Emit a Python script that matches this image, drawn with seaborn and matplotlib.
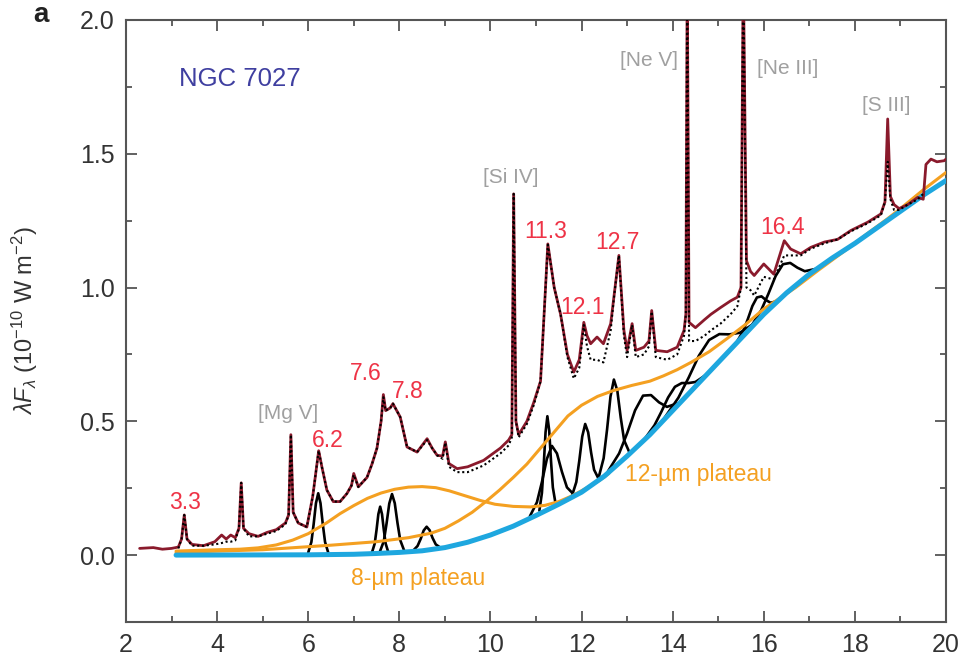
import numpy as np
import matplotlib
matplotlib.use("Agg")
import matplotlib.pyplot as plt
import seaborn as sns
from matplotlib.ticker import MultipleLocator, FormatStrFormatter

# ---------------- data ----------------
wavelength = [2.3, 2.6, 2.8, 3.0, 3.15, 3.22, 3.28, 3.34, 3.45, 3.7, 3.95, 4.1, 4.2, 4.3, 4.4,
              4.48, 4.53, 4.58, 4.7, 4.9, 5.1, 5.3, 5.5, 5.57, 5.62, 5.67, 5.78, 5.97, 6.1, 6.23,
              6.3, 6.41, 6.55, 6.7, 6.85, 6.95, 7.0, 7.1, 7.29, 7.4, 7.51, 7.6, 7.65, 7.7, 7.8,
              7.86, 8.02, 8.17, 8.39, 8.61, 8.72, 8.83, 8.95, 9.01, 9.09, 9.27, 9.5, 9.85, 10.22,
              10.4, 10.47, 10.51, 10.56, 10.62, 10.8, 10.95, 11.1, 11.26, 11.4, 11.54, 11.69,
              11.83, 11.95, 12.05, 12.12, 12.2, 12.34, 12.48, 12.64, 12.71, 12.82, 12.93, 13.0,
              13.11, 13.19, 13.37, 13.48, 13.54, 13.63, 13.88, 14.1, 14.25, 14.29, 14.32, 14.36,
              14.5, 14.7, 14.84, 15.05, 15.27, 15.42, 15.5, 15.55, 15.62, 15.71, 15.79, 16.0,
              16.22, 16.45, 16.59, 16.81, 17.03, 17.33, 17.62, 17.91, 18.28, 18.57, 18.66, 18.72,
              18.78, 18.86, 18.97, 19.16, 19.38, 19.5, 19.56, 19.67, 19.8, 19.96, 20.0]
flux_observed = [0.025, 0.028, 0.022, 0.025, 0.03, 0.06, 0.15, 0.06, 0.04, 0.035, 0.05, 0.075, 0.06,
                 0.075, 0.065, 0.1, 0.27, 0.1, 0.08, 0.07, 0.085, 0.095, 0.12, 0.15, 0.45, 0.16,
                 0.12, 0.105, 0.22, 0.39, 0.33, 0.243, 0.2, 0.2, 0.23, 0.26, 0.305, 0.255, 0.29,
                 0.34, 0.40, 0.5, 0.6, 0.54, 0.55, 0.566, 0.516, 0.404, 0.385, 0.435, 0.40, 0.373,
                 0.37, 0.423, 0.342, 0.323, 0.33, 0.354, 0.40, 0.43, 0.45, 1.35, 0.5, 0.45, 0.50,
                 0.57, 0.65, 1.163, 1.0, 0.9, 0.75, 0.684, 0.73, 0.87, 0.82, 0.79, 0.815, 0.79,
                 0.865, 0.964, 1.12, 0.84, 0.765, 0.865, 0.765, 0.777, 0.8, 0.914, 0.765, 0.76,
                 0.777, 0.84, 0.9, 2.2, 0.87, 0.85, 0.88, 0.9, 0.925, 0.95, 0.964, 1.0, 2.2, 1.1,
                 1.06, 1.045, 1.088, 1.05, 1.175, 1.144, 1.126, 1.15, 1.17, 1.18, 1.213, 1.244,
                 1.275, 1.32, 1.63, 1.34, 1.31, 1.295, 1.31, 1.337, 1.33, 1.46, 1.48, 1.47, 1.474,
                 1.48]
flux_model = [np.nan, np.nan, np.nan, np.nan, 0.025, 0.06, 0.15, 0.06, 0.035, 0.035, 0.04, 0.045, 0.05,
              0.05, 0.055, 0.1, 0.27, 0.1, 0.07, 0.07, 0.08, 0.09, 0.115, 0.15, 0.45, 0.16,
              0.12, 0.105, 0.22, 0.39, 0.33, 0.243, 0.2, 0.2, 0.23, 0.26, 0.3, 0.255, 0.29,
              0.34, 0.40, 0.5, 0.59, 0.54, 0.55, 0.566, 0.516, 0.404, 0.385, 0.43, 0.40, 0.373,
              0.36, 0.42, 0.33, 0.31, 0.31, 0.335, 0.38, 0.41, 0.44, 1.35, 0.5, 0.44, 0.49,
              0.56, 0.65, 1.16, 1.0, 0.9, 0.74, 0.66, 0.70, 0.86, 0.78, 0.73, 0.73, 0.72,
              0.84, 0.96, 1.12, 0.82, 0.74, 0.86, 0.74, 0.75, 0.78, 0.91, 0.74, 0.73,
              0.75, 0.82, 0.9, 2.2, 0.8, 0.80, 0.82, 0.84, 0.865, 0.90, 0.93, 1.0, 2.2, 1.0,
              0.99, 0.97, 1.04, 1.03, 1.12, 1.12, 1.12, 1.145, 1.165, 1.18, 1.21, 1.24,
              1.27, 1.32, 1.47, 1.33, 1.29, 1.29, 1.31, 1.33, 1.35, np.nan, np.nan, np.nan,
              np.nan, np.nan]

continuum_x = [3.1, 6.0, 7.0, 7.5, 8.0, 8.5, 9.0, 9.5, 10.0, 10.5, 11.0, 11.5, 12.0, 12.5, 13.0,
               13.5, 14.0, 14.5, 15.0, 15.5, 16.0, 16.5, 17.0, 17.5, 18.0, 18.5, 19.0, 19.5, 20.0]
continuum_y = [0.0, 0.001, 0.003, 0.006, 0.01, 0.016, 0.028, 0.048, 0.075, 0.108, 0.148, 0.19, 0.235,
               0.295, 0.37, 0.45, 0.54, 0.63, 0.72, 0.81, 0.90, 0.98, 1.05, 1.11, 1.165, 1.225,
               1.285, 1.345, 1.40]

plateau8_x = [3.1, 4.0, 4.5, 4.9, 5.3, 5.66, 6.0, 6.4, 6.7, 7.0, 7.3, 7.6, 7.9, 8.2, 8.5, 8.8, 9.1,
              9.4, 9.78, 10.1, 10.5, 10.88, 11.2, 11.5, 11.8, 12.1, 12.4, 12.6]
plateau8_y = [0.015, 0.02, 0.022, 0.027, 0.038, 0.056, 0.08, 0.12, 0.155, 0.185, 0.212, 0.232,
              0.246, 0.254, 0.256, 0.252, 0.24, 0.224, 0.204, 0.19, 0.182, 0.18, 0.186, 0.2,
              0.222, 0.25, 0.28, 0.305]

plateau12_x = [3.1, 5.0, 6.5, 7.5, 8.2, 8.7, 9.0, 9.3, 9.6, 9.9, 10.2, 10.5, 10.8, 11.1, 11.4,
               11.7, 12.0, 12.35, 12.7, 13.1, 13.5, 13.8, 14.1, 14.4, 14.8, 15.2, 15.6, 16.0,
               16.35, 16.7, 17.2, 17.8, 18.3, 18.7, 19.0, 19.5, 20.0]
plateau12_y = [0.01, 0.02, 0.037, 0.05, 0.065, 0.082, 0.1, 0.128, 0.16, 0.2, 0.243, 0.29, 0.34,
               0.40, 0.46, 0.52, 0.56, 0.593, 0.615, 0.634, 0.65, 0.67, 0.693, 0.72, 0.76, 0.81,
               0.862, 0.92, 0.96, 1.0, 1.065, 1.14, 1.205, 1.255, 1.295, 1.365, 1.43]

# individual PAH feature profiles (drawn on top of the continuum)
pah62_x = [6.0, 6.07, 6.12, 6.17, 6.22, 6.27, 6.32, 6.37, 6.44]
pah62_y = [0.009, 0.049, 0.116, 0.194, 0.231, 0.194, 0.116, 0.049, 0.009]
pah76_x = [7.404, 7.46, 7.50, 7.54, 7.58, 7.62, 7.66, 7.70, 7.756]
pah76_y = [0.012, 0.043, 0.094, 0.153, 0.181, 0.153, 0.094, 0.043, 0.012]
pah78_x = [7.576, 7.66, 7.72, 7.78, 7.84, 7.90, 7.96, 8.02, 8.104]
pah78_y = [0.014, 0.052, 0.118, 0.193, 0.228, 0.194, 0.120, 0.056, 0.018]
pah86_x = [8.30, 8.40, 8.47, 8.535, 8.60, 8.665, 8.73, 8.80, 8.90]
pah86_y = [0.016, 0.034, 0.061, 0.092, 0.106, 0.093, 0.064, 0.040, 0.028]
pah112_x = [11.074, 11.13, 11.17, 11.21, 11.25, 11.29, 11.33, 11.37, 11.426]
pah112_y = [0.166, 0.232, 0.337, 0.459, 0.519, 0.466, 0.351, 0.253, 0.196]
pah113_x = [10.866, 11.02, 11.13, 11.24, 11.35, 11.46, 11.57, 11.68, 11.834]
pah113_y = [0.145, 0.197, 0.273, 0.360, 0.408, 0.380, 0.311, 0.253, 0.226]
pah121_x = [11.794, 11.885, 11.95, 12.015, 12.08, 12.145, 12.21, 12.275, 12.366]
pah121_y = [0.224, 0.273, 0.352, 0.443, 0.490, 0.459, 0.383, 0.319, 0.288]
pah127_x = [12.38, 12.485, 12.56, 12.635, 12.71, 12.785, 12.86, 12.935, 13.04]
pah127_y = [0.293, 0.362, 0.469, 0.592, 0.656, 0.615, 0.514, 0.429, 0.388]
pah134_x = [12.58, 12.825, 13.0, 13.175, 13.35, 13.525, 13.7, 13.875, 14.12]
pah134_y = [0.313, 0.380, 0.455, 0.541, 0.596, 0.598, 0.571, 0.554, 0.568]
pah140_x = [13.39, 13.6, 13.75, 13.9, 14.05, 14.2, 14.35, 14.5, 14.71]
pah140_y = [0.435, 0.485, 0.535, 0.589, 0.629, 0.643, 0.643, 0.647, 0.671]
pah148_x = [13.81, 14.125, 14.35, 14.575, 14.8, 15.025, 15.25, 15.475, 15.79]
pah148_y = [0.510, 0.588, 0.663, 0.745, 0.804, 0.826, 0.825, 0.831, 0.866]
pah158_x = [15.41, 15.55, 15.65, 15.75, 15.85, 15.95, 16.05, 16.15, 16.29]
pah158_y = [0.797, 0.838, 0.882, 0.931, 0.963, 0.967, 0.953, 0.943, 0.949]
pah164_x = [15.716, 15.94, 16.1, 16.26, 16.42, 16.58, 16.74, 16.9, 17.124]
pah164_y = [0.853, 0.914, 0.976, 1.043, 1.087, 1.092, 1.074, 1.061, 1.069]

pah_labels = ["3.3", "6.2", "7.6", "7.8", "11.3", "12.1", "12.7", "16.4"]
pah_label_x = [3.3, 6.43, 7.27, 8.19, 11.22, 12.02, 12.78, 16.41]
pah_label_y = [0.195, 0.43, 0.68, 0.61, 1.21, 0.925, 1.17, 1.225]

line_labels = ["[Mg V]", "[Si IV]", "[Ne V]", "[Ne III]", "[S III]"]
line_label_x = [5.55, 10.45, 13.47, 16.52, 18.68]
line_label_y = [0.53, 1.41, 1.85, 1.82, 1.68]

x_ticks = [2, 4, 6, 8, 10, 12, 14, 16, 18, 20]
y_ticks = [0.0, 0.5, 1.0, 1.5, 2.0]

# ---------------- styling ----------------
sns.set_theme(style="ticks")
plt.rcParams['font.family'] = ['Liberation Sans', 'DejaVu Sans']
plt.rcParams['mathtext.fontset'] = 'custom'
plt.rcParams['mathtext.rm'] = 'Liberation Sans'
plt.rcParams['mathtext.it'] = 'Liberation Sans:italic'

RED_SPEC = '#8a1a2c'
RED_LAB = '#ee3346'
GRAY_LAB = '#a0a0a0'
ORANGE = '#f4a021'
CYAN = '#1ea7df'
NAVY = '#3f3fa0'
AXIS = '#555555'

fig = plt.figure(figsize=(9.66, 6.66), dpi=100)
ax = fig.add_axes([0.1304, 0.0661, 0.8489, 0.9039])

profiles = [(pah62_x, pah62_y), (pah76_x, pah76_y), (pah78_x, pah78_y), (pah86_x, pah86_y),
            (pah112_x, pah112_y), (pah113_x, pah113_y), (pah121_x, pah121_y),
            (pah127_x, pah127_y), (pah134_x, pah134_y), (pah140_x, pah140_y),
            (pah148_x, pah148_y), (pah158_x, pah158_y), (pah164_x, pah164_y)]
for px, py in profiles:
    sns.lineplot(x=px, y=py, ax=ax, color='black', lw=1.9, sort=False, estimator=None, zorder=2)

sns.lineplot(x=plateau8_x, y=plateau8_y, ax=ax, color=ORANGE, lw=2.2, sort=False,
             estimator=None, zorder=3)
sns.lineplot(x=plateau12_x, y=plateau12_y, ax=ax, color=ORANGE, lw=2.2, sort=False,
             estimator=None, zorder=3)
sns.lineplot(x=continuum_x, y=continuum_y, ax=ax, color=CYAN, lw=3.6, sort=False,
             estimator=None, zorder=4)

sns.lineplot(x=wavelength, y=flux_observed, ax=ax, color=RED_SPEC, lw=2.0, sort=False,
             estimator=None, zorder=5)
wl = np.array(wavelength)
fm = np.array(flux_model)
mask = ~np.isnan(fm)
ax.plot(wl[mask], fm[mask], color='black', lw=1.5, ls=(0, (1, 1.3)), zorder=6)

for t, x, y in zip(pah_labels, pah_label_x, pah_label_y):
    ax.text(x, y, t, color=RED_LAB, fontsize=16.5, ha='center', va='center', zorder=7)
for t, x, y in zip(line_labels, line_label_x, line_label_y):
    ax.text(x, y, t, color=GRAY_LAB, fontsize=15, ha='center', va='center', zorder=7)

ax.text(4.49, 1.78, "NGC 7027", color=NAVY, fontsize=18.5, ha='center', va='center')
ax.text(8.42, -0.086, "8-µm plateau", color=ORANGE, fontsize=16.5, ha='center', va='center')
ax.text(14.57, 0.30, "12-µm plateau", color=ORANGE, fontsize=16.5, ha='center', va='center')

ax.set_xlim(2, 20)
ax.set_ylim(-0.25, 2.0)
ax.set_xticks(x_ticks)
ax.set_yticks(y_ticks)
ax.yaxis.set_major_formatter(FormatStrFormatter('%.1f'))
ax.xaxis.set_minor_locator(MultipleLocator(1))
ax.yaxis.set_minor_locator(MultipleLocator(0.25))
ax.tick_params(which='both', direction='in', top=True, right=True, color=AXIS,
               labelsize=18, labelcolor='#333333', width=1.3)
ax.tick_params(which='major', length=8, pad=8)
ax.tick_params(which='minor', length=4)
for s in ax.spines.values():
    s.set_color(AXIS)
    s.set_linewidth(1.5)
    s.set_visible(True)

ax.set_xlabel('')
ax.set_ylabel(r'$\lambda F_\lambda$ (10$^{-10}$ W m$^{-2}$)', fontsize=17, color='#333333')
ax.yaxis.set_label_coords(-0.105, 0.5)

fig.text(0.042, 0.977, 'a', fontsize=20, fontweight='bold', ha='center', va='center', color='#222222')

fig.savefig('out.png', dpi=100)
